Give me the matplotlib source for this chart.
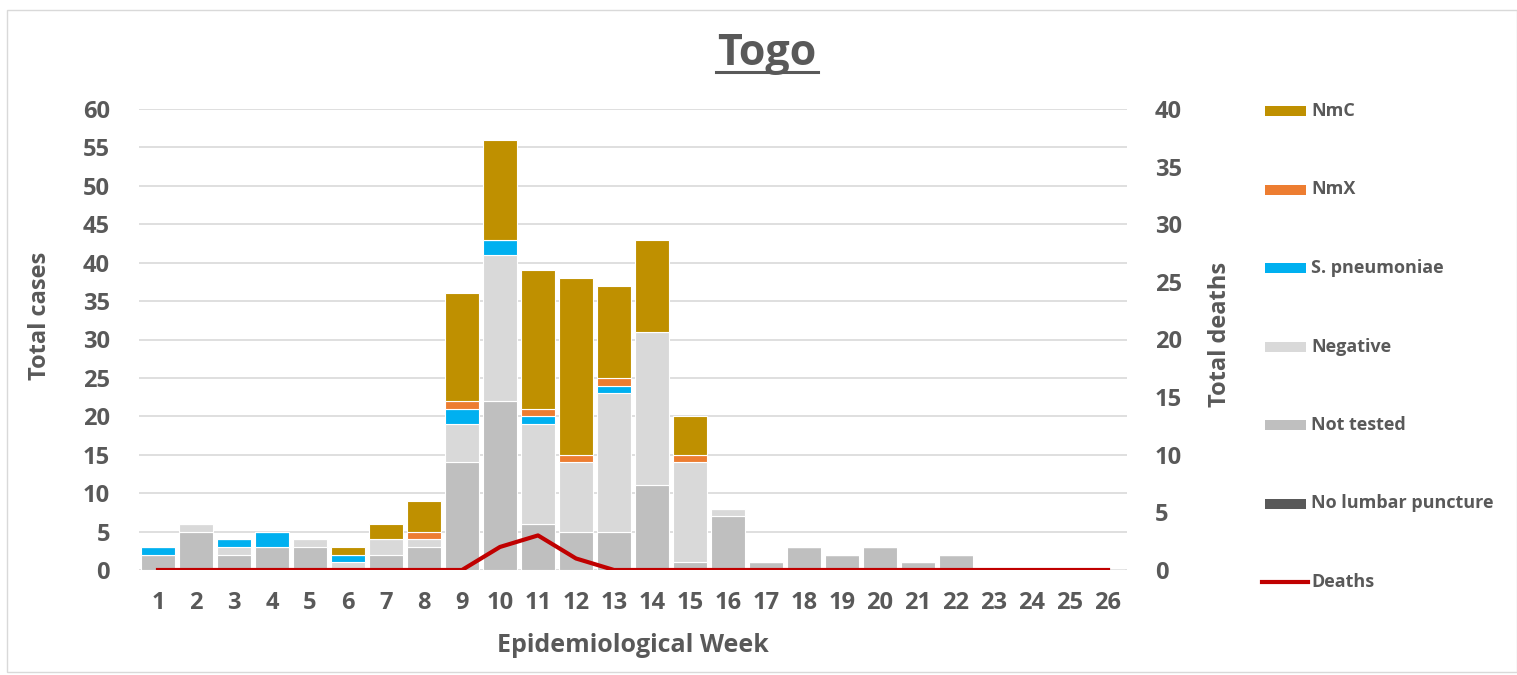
import matplotlib
matplotlib.use("Agg")
import matplotlib.pyplot as plt
from matplotlib.patches import Rectangle
from matplotlib.lines import Line2D
import numpy as np

weeks = list(range(1, 27))
no_lp      = [0]*26
not_tested = [2, 5, 2, 3, 3, 0, 2, 3, 14, 22, 6, 5, 5, 11, 1, 7, 1, 3, 2, 3, 1, 2, 0, 0, 0, 0]
negative   = [0, 1, 1, 0, 1, 1, 2, 1, 5, 19, 13, 9, 18, 20, 13, 1, 0, 0, 0, 0, 0, 0, 0, 0, 0, 0]
s_pneumo   = [1, 0, 1, 2, 0, 1, 0, 0, 2, 2, 1, 0, 1, 0, 0, 0, 0, 0, 0, 0, 0, 0, 0, 0, 0, 0]
nmx        = [0, 0, 0, 0, 0, 0, 0, 1, 1, 0, 1, 1, 1, 0, 1, 0, 0, 0, 0, 0, 0, 0, 0, 0, 0, 0]
nmc        = [0, 0, 0, 0, 0, 1, 2, 4, 14, 13, 18, 23, 12, 12, 5, 0, 0, 0, 0, 0, 0, 0, 0, 0, 0, 0]
deaths     = [0, 0, 0, 0, 0, 0, 0, 0, 0, 2, 3, 1, 0, 0, 0, 0, 0, 0, 0, 0, 0, 0, 0, 0, 0, 0]

series = [("No lumbar puncture", no_lp, "#595959"),
          ("Not tested", not_tested, "#BFBFBF"),
          ("Negative", negative, "#D9D9D9"),
          ("S. pneumoniae", s_pneumo, "#00B0F0"),
          ("NmX", nmx, "#ED7D31"),
          ("NmC", nmc, "#BF9000")]

txt = "#595959"
plt.rcParams['font.family'] = ['Open Sans', 'DejaVu Sans']

fig = plt.figure(figsize=(15.17, 6.75), dpi=100)
ax = fig.add_axes([139/1517, 1 - 570/675, (1127-139)/1517, (570-109)/675])

x = np.array(weeks)
bottom = np.zeros(26)
for name, vals, col in series:
    v = np.array(vals, dtype=float)
    ax.bar(x, v, bottom=bottom, width=0.9, color=col, edgecolor="white", linewidth=0.8, zorder=2)
    bottom += v

ax.set_xlim(0.5, 26.5)
ax.set_ylim(0, 60)
ax.set_yticks(range(0, 61, 5))
ax.set_xticks(weeks)
ax.grid(axis='y', color="#D9D9D9", linewidth=1.2, zorder=0)
ax.set_axisbelow(True)
for s in ax.spines.values():
    s.set_visible(False)
ax.tick_params(axis='y', length=0, labelsize=17, labelcolor=txt, pad=21)
ax.tick_params(axis='x', length=0, labelsize=17, labelcolor=txt, pad=15)
for lab in ax.get_xticklabels() + ax.get_yticklabels():
    lab.set_fontweight('bold')
ax.set_ylabel("Total cases", fontsize=17, fontweight='bold', color=txt)
ax.yaxis.set_label_coords(-0.088, 0.551)
ax.set_xlabel("Epidemiological Week", fontsize=18, fontweight='bold', color=txt)
ax.xaxis.set_label_coords(0.5, -0.137)

ax2 = ax.twinx()
ax2.set_ylim(0, 40)
ax2.set_yticks(range(0, 41, 5))
for s in ax2.spines.values():
    s.set_visible(False)
ax2.tick_params(length=0, labelsize=17, labelcolor=txt, pad=20)
for lab in ax2.get_yticklabels():
    lab.set_fontweight('bold')
ax2.set_ylabel("Total deaths", fontsize=17, fontweight='bold', color=txt)
ax2.yaxis.set_label_coords(1.082, 0.51)
ax2.plot(x, deaths, color="#C00000", linewidth=3, zorder=5, solid_joinstyle='round')

fig.text(767/1517, 1 - 65/675, "Togo", ha='center', va='baseline', fontsize=31,
         fontweight='bold', color=txt)
# underline
fig.add_artist(Line2D([716/1517, 818/1517], [1 - 72/675, 1 - 72/675], color=txt, linewidth=2.2))

# legend
leg_items = [("NmC", "#BF9000"), ("NmX", "#ED7D31"), ("S. pneumoniae", "#00B0F0"),
             ("Negative", "#D9D9D9"), ("Not tested", "#BFBFBF"), ("No lumbar puncture", "#595959")]
y0 = 111
dy = 78.5
for i, (name, col) in enumerate(leg_items):
    yy = y0 + i * dy
    fig.add_artist(Rectangle((1265/1517, 1 - (yy + 5)/675), 41/1517, 10/675,
                             facecolor=col, edgecolor='none', transform=fig.transFigure))
    fig.text(1311/1517, 1 - yy/675, name, ha='left', va='center', fontsize=13,
             fontweight='bold', color=txt)
yy = y0 + 6 * dy
fig.add_artist(Line2D([1262/1517, 1308/1517], [1 - yy/675, 1 - yy/675], color="#C00000", linewidth=3))
fig.text(1311/1517, 1 - yy/675, "Deaths", ha='left', va='center', fontsize=13,
         fontweight='bold', color=txt)

# frame
fig.add_artist(Rectangle((7/1517, 1 - 672/675), 1 - 7/1517, (672-10)/675, fill=False,
                         edgecolor="#D9D9D9", linewidth=1, transform=fig.transFigure))

fig.savefig("out.png", dpi=100, facecolor="white")
